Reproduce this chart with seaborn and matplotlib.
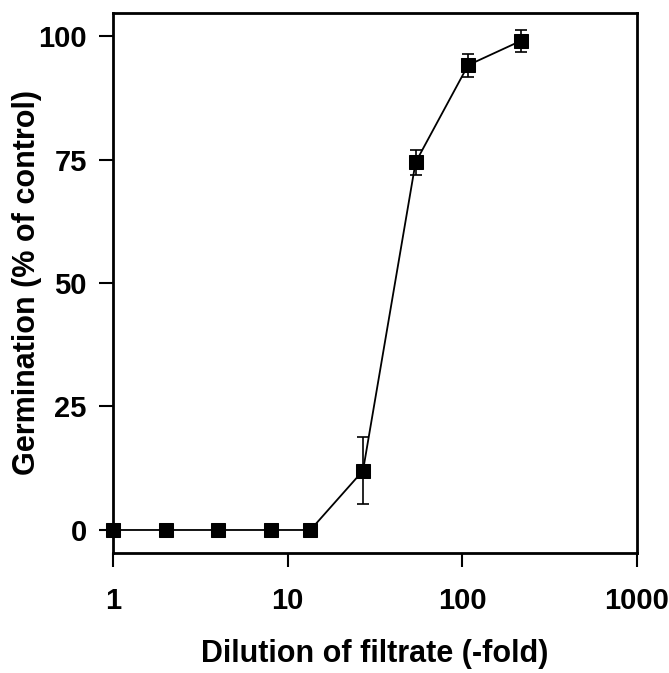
import matplotlib
matplotlib.use("Agg")
import matplotlib.pyplot as plt
import seaborn as sns
import pandas as pd
import numpy as np

dilution = [1, 2, 4, 8, 13.5, 27, 54, 108, 216]
germination = [0, 0, 0, 0, 0, 12.0, 74.4, 94.1, 99.0]
error = [0, 0, 0, 0, 0, 6.8, 2.6, 2.3, 2.2]
xticks = [1, 10, 100, 1000]
yticks = [0, 25, 50, 75, 100]

sns.set_theme(style="ticks")
plt.rcParams['font.family'] = ['Liberation Sans', 'DejaVu Sans']
plt.rcParams['font.weight'] = 'bold'
plt.rcParams['text.color'] = 'black'
plt.rcParams['axes.labelcolor'] = 'black'
plt.rcParams['xtick.color'] = 'black'
plt.rcParams['ytick.color'] = 'black'

df = pd.DataFrame({"dilution": dilution, "germination": germination, "err": error})

fig = plt.figure(figsize=(6.69, 6.73), dpi=100)
ax = fig.add_axes([0.169, 0.178, 0.783, 0.803])

mask = df["err"] > 0
ax.errorbar(df.loc[mask, "dilution"], df.loc[mask, "germination"], yerr=df.loc[mask, "err"],
            fmt="none", ecolor="black", elinewidth=1.2, capsize=4, capthick=1.2, zorder=2)
sns.lineplot(data=df, x="dilution", y="germination", ax=ax, color="black", linewidth=1.3,
             marker="s", markersize=9.5, markeredgecolor="black", markerfacecolor="black",
             zorder=3, clip_on=False)

ax.set_xscale("log")
ax.set_xlim(1, 1000)
ax.set_ylim(-4.7, 104.7)
ax.set_xticks(xticks)
ax.set_xticklabels([str(t) for t in xticks])
ax.minorticks_off()
ax.set_yticks(yticks)
ax.set_yticklabels([str(t) for t in yticks])

for s in ax.spines.values():
    s.set_linewidth(2)
    s.set_color("black")
ax.tick_params(axis="both", direction="out", length=10, width=1.5, color="black",
               labelsize=21, labelcolor="black")
ax.tick_params(axis="x", pad=14)
ax.tick_params(axis="y", pad=9)
for lab in ax.get_xticklabels() + ax.get_yticklabels():
    lab.set_fontweight("bold")

ax.set_xlabel("Dilution of filtrate (-fold)", fontsize=22, fontweight="bold", color="black")
ax.set_ylabel("Germination (% of control)", fontsize=22, fontweight="bold", color="black")
ax.xaxis.set_label_coords(0.5, -0.158)
ax.yaxis.set_label_coords(-0.135, 0.5)

fig.savefig("out.png", dpi=100)
